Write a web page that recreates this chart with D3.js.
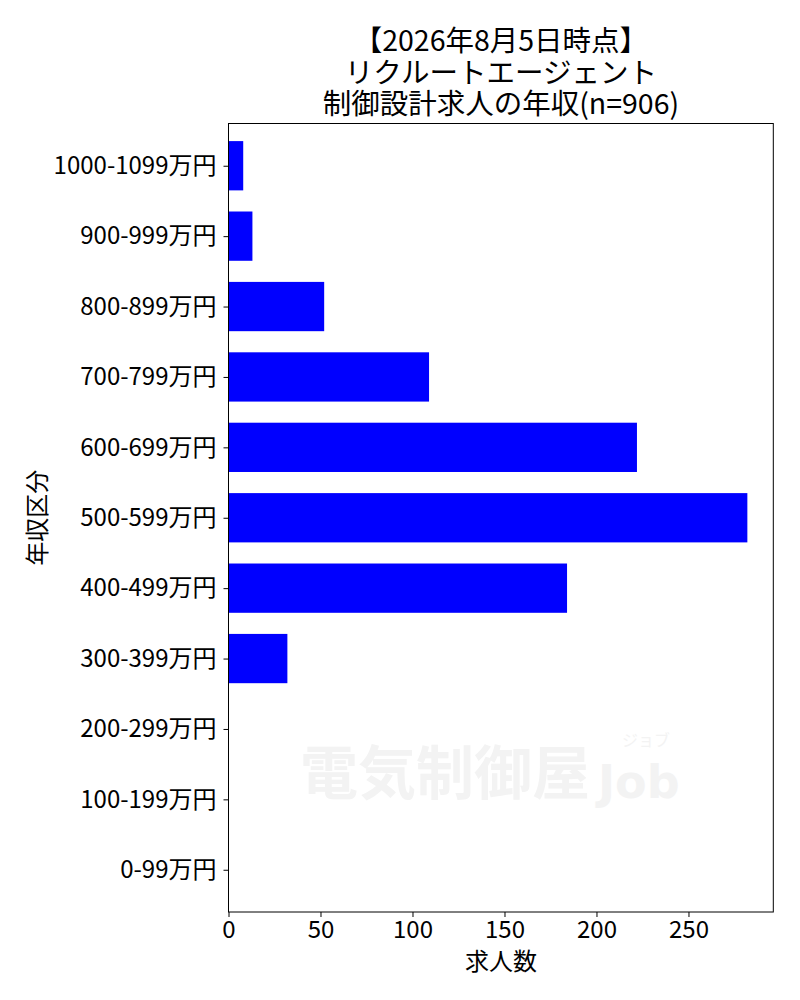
<!DOCTYPE html>
<html>
<head>
<meta charset="utf-8">
<script src="https://cdn.jsdelivr.net/npm/d3@7"></script>
<style>
  html, body { margin: 0; padding: 0; background: #fff; }
  svg { display: block; }
  text { font-family: "Noto Sans CJK JP", "Noto Sans", sans-serif; }
</style>
</head>
<body>
<svg id="chart" width="800" height="1000"></svg>
<script>
// ---- data ----
const titleLines = ["【2026年8月5日時点】", "リクルートエージェント", "制御設計求人の年収(n=906)"];
const categories = ["0-99万円", "100-199万円", "200-299万円", "300-399万円", "400-499万円",
  "500-599万円", "600-699万円", "700-799万円", "800-899万円", "900-999万円", "1000-1099万円"];
const counts = [0, 0, 0, 32, 184, 282, 222, 109, 52, 13, 8];
const xTicks = [0, 50, 100, 150, 200, 250];
const xLabel = "求人数";
const yLabel = "年収区分";

// ---- layout ----
const svg = d3.select("#chart");
const pL = 228.5, pR = 773.3, pT = 123.5, pB = 912;
const barH = 0.7;

const x = d3.scaleLinear()
  .domain([0, d3.max(counts) * 1.05])
  .range([pL, pR]);
const y = d3.scaleLinear()
  .domain([-0.6, categories.length - 1 + 0.6])
  .range([pB, pT]);

// watermark
const wm = svg.append("g").attr("fill", "#f3f3f3");
wm.append("text").attr("x", 300).attr("y", 794)
  .attr("font-size", 58).attr("font-weight", 700).text("電気制御屋");
wm.append("text").attr("x", 598).attr("y", 798)
  .attr("font-size", 46).attr("font-weight", 700)
  .style("font-family", "'DejaVu Sans', sans-serif").text("Job");
wm.append("text").attr("x", 622).attr("y", 746)
  .attr("font-size", 16).text("ジョブ");

// bars
svg.append("g").selectAll("rect")
  .data(counts)
  .join("rect")
  .attr("x", x(0))
  .attr("y", (d, i) => y(i + barH / 2))
  .attr("width", d => x(d) - x(0))
  .attr("height", (d, i) => y(i - barH / 2) - y(i + barH / 2))
  .attr("fill", "#0000ff");

// frame
svg.append("rect")
  .attr("x", pL).attr("y", pT)
  .attr("width", pR - pL).attr("height", pB - pT)
  .attr("fill", "none").attr("stroke", "#000").attr("stroke-width", 1);

// x axis
const xAxis = d3.axisBottom(x).tickValues(xTicks).tickSize(5).tickPadding(4).tickFormat(d3.format("d"));
const gx = svg.append("g").attr("transform", `translate(0,${pB})`).call(xAxis);
gx.select(".domain").remove();
gx.selectAll("text").attr("font-size", 24).attr("fill", "#000")
  .style("font-family", "'Noto Sans CJK JP', sans-serif");
gx.selectAll("line").attr("stroke", "#000");

// y axis
const yAxis = d3.axisLeft(y).tickValues(d3.range(categories.length))
  .tickFormat(i => categories[i]).tickSize(5).tickPadding(7);
const gy = svg.append("g").attr("transform", `translate(${pL},0)`).call(yAxis);
gy.select(".domain").remove();
gy.selectAll("text").attr("font-size", 24).attr("fill", "#000")
  .style("font-family", "'Noto Sans CJK JP', sans-serif");
gy.selectAll("line").attr("stroke", "#000");

// axis labels
svg.append("text").attr("x", (pL + pR) / 2).attr("y", 970)
  .attr("text-anchor", "middle").attr("font-size", 24).text(xLabel);
svg.append("text")
  .attr("transform", `translate(46,${(pT + pB) / 2}) rotate(-90)`)
  .attr("text-anchor", "middle").attr("font-size", 24).text(yLabel);

// title (one text block, three lines)
const title = svg.append("text")
  .attr("x", (pL + pR) / 2)
  .attr("y", 51)
  .attr("text-anchor", "middle")
  .attr("font-size", 28.5);
title.selectAll("tspan")
  .data(titleLines)
  .join("tspan")
  .attr("x", (pL + pR) / 2)
  .attr("dy", (d, i) => i === 0 ? 0 : 31.5)
  .text(d => d);
</script>
</body>
</html>
